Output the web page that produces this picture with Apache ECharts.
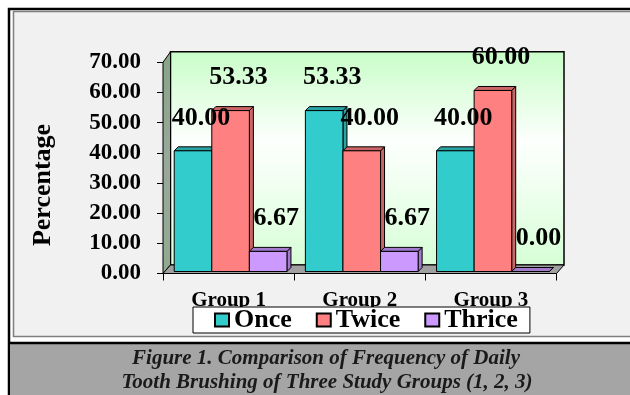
<!DOCTYPE html>
<html>
<head>
<meta charset="utf-8">
<script src="https://cdn.jsdelivr.net/npm/echarts@6/dist/echarts.min.js"></script>
<style>
  html, body { margin: 0; padding: 0; background: #ffffff; }
  #chart { width: 630px; height: 395px; }
</style>
</head>
<body>
<div id="chart"></div>
<script>
// Groups and brushing-frequency percentages
var groups = ['Group 1', 'Group 2', 'Group 3'];
var seriesNames = ['Once', 'Twice', 'Thrice'];
var onceValues = [40.00, 53.33, 40.00];
var twiceValues = [53.33, 40.00, 60.00];
var thriceValues = [6.67, 6.67, 0.00];
var yTicks = { min: 0, max: 70, step: 10 };
var captionLines = [
  'Figure 1. Comparison of Frequency of Daily',
  'Tooth Brushing of Three Study Groups (1, 2, 3)'
];

var SERIF = "'Times New Roman', 'Liberation Serif', serif";
var faceColors = ['#33CCCC', '#FF8080', '#CC99FF'];
var shadeColors = ['#2AA3A3', '#CC6666', '#A37ACC'];
var valueSets = [onceValues, twiceValues, thriceValues];

var BAR_RATIO = 0.2865;   // bar width as a share of one category band
var SHIFT_X = 2, SHIFT_Y = -2; // bars stand slightly inside the floor
var DEPTH = 4;            // 3D cap depth of each bar

function barRenderer(idx) {
  return function (params, api) {
    var cat = api.value(0), v = api.value(1);
    var base = api.coord([cat, 0]);
    var top = api.coord([cat, v]);
    var band = api.size([1, 0])[0];
    var bw = band * BAR_RATIO;
    var x0 = base[0] + SHIFT_X + (idx - 1.5) * bw;
    var x1 = x0 + bw;
    var yb = base[1] + SHIFT_Y;
    var yt = top[1] + SHIFT_Y;
    var d = DEPTH;
    var line = { stroke: '#000', lineWidth: 1 };
    return {
      type: 'group',
      children: [
        { type: 'polygon', shape: { points: [[x1, yt], [x1 + d, yt - d], [x1 + d, yb - d], [x1, yb]] },
          style: Object.assign({ fill: shadeColors[idx] }, line) },
        { type: 'polygon', shape: { points: [[x0, yt], [x0 + d, yt - d], [x1 + d, yt - d], [x1, yt]] },
          style: Object.assign({ fill: shadeColors[idx] }, line) },
        { type: 'rect', shape: { x: x0, y: yt, width: bw, height: yb - yt },
          style: Object.assign({ fill: faceColors[idx] }, line) },
        { type: 'text', x: (x0 + x1) / 2 + 8, y: yt - 33, z2: 100,
          style: { text: v.toFixed(2), fill: '#000', font: 'bold 26px ' + SERIF,
                   align: 'center', verticalAlign: 'middle' } }
      ]
    };
  };
}

// back wall, side wall and floor of the 3D plot box
function wallRenderer(params, api) {
  var cs = params.coordSys;
  var l = cs.x, t = cs.y, r = cs.x + cs.width, b = cs.y + cs.height;
  var dx = 7.5, dyTop = -10.5, dyBot = -8.5;
  return {
    type: 'group',
    children: [
      { type: 'rect', shape: { x: l + dx, y: t + dyTop, width: cs.width, height: (b + dyBot) - (t + dyTop) },
        style: { stroke: '#000', lineWidth: 1.5,
          fill: new echarts.graphic.LinearGradient(0, 0, 0, 1, [
            { offset: 0, color: '#C8FDC8' },
            { offset: 0.42, color: '#FDFFFD' },
            { offset: 0.6, color: '#F2FFF2' },
            { offset: 1, color: '#D6FED6' }
          ]) } },
      { type: 'polygon', shape: { points: [[l, t], [l + dx, t + dyTop], [l + dx, b + dyBot], [l, b]] },
        style: { stroke: '#000', lineWidth: 1,
          fill: new echarts.graphic.LinearGradient(0, 0, 0, 1, [
            { offset: 0, color: '#86A586' },
            { offset: 0.5, color: '#9AA89A' },
            { offset: 1, color: '#8FAA8F' }
          ]) } },
      { type: 'polygon', shape: { points: [[l, b], [l + dx, b + dyBot], [r + dx, b + dyBot], [r, b]] },
        style: { stroke: '#000', lineWidth: 1, fill: '#A0A0A0' } }
    ]
  };
}

var series = [{
  type: 'custom', z: 1, silent: true, clip: false,
  renderItem: wallRenderer, data: [[0, 0]]
}];
valueSets.forEach(function (vals, i) {
  series.push({
    type: 'custom', name: seriesNames[i], z: 2, clip: false,
    itemStyle: { color: faceColors[i] },
    encode: { x: 0, y: 1 },
    renderItem: barRenderer(i),
    data: vals.map(function (v, k) { return [k, v]; })
  });
});

var chart = echarts.init(document.getElementById('chart'), null, { renderer: 'canvas' });
chart.setOption({
  animation: false,
  backgroundColor: 'transparent',
  graphic: [
    { type: 'rect', z: -20, shape: { x: 9, y: 9, width: 700, height: 500 },
      style: { fill: '#ffffff', stroke: '#000', lineWidth: 2.5 } },
    { type: 'rect', z: -19, shape: { x: 13.5, y: 11.5, width: 700, height: 325 },
      style: { fill: '#F1F1F1', stroke: '#7F7F7F', lineWidth: 1.5 } },
    { type: 'rect', z: -19, shape: { x: 10, y: 344, width: 700, height: 60 },
      style: { fill: '#A5A5A5' } },
    { type: 'line', z: -18, shape: { x1: 9, y1: 343, x2: 700, y2: 343 },
      style: { stroke: '#000', lineWidth: 2.5 } },
    { type: 'text', z: 10, x: 43, y: 185, rotation: Math.PI / 2,
      style: { text: 'Percentage', font: 'bold 26px ' + SERIF, fill: '#000',
               align: 'center', verticalAlign: 'middle' } },
    { type: 'text', z: 10, x: 326, y: 359,
      style: { text: captionLines[0], font: 'italic bold 21px ' + SERIF, fill: '#1A1A1A',
               align: 'center', verticalAlign: 'middle' } },
    { type: 'text', z: 10, x: 327, y: 383,
      style: { text: captionLines[1], font: 'italic bold 21px ' + SERIF, fill: '#1A1A1A',
               align: 'center', verticalAlign: 'middle' } }
  ],
  grid: { left: 163, right: 73.5, top: 62.3, bottom: 121.5, containLabel: false },
  xAxis: {
    type: 'category', data: groups,
    axisLine: { show: true, lineStyle: { color: '#000', width: 1 } },
    axisTick: { show: true, length: 7, lineStyle: { color: '#000' } },
    axisLabel: { margin: 17, color: '#000', fontFamily: SERIF, fontWeight: 'bold', fontSize: 21 },
    splitLine: { show: false }
  },
  yAxis: {
    type: 'value', min: yTicks.min, max: yTicks.max, interval: yTicks.step,
    axisLine: { show: true, lineStyle: { color: '#000', width: 1 } },
    axisTick: { show: true, length: 6, lineStyle: { color: '#000' } },
    axisLabel: { margin: 22, color: '#000', fontFamily: SERIF, fontWeight: 'bold', fontSize: 23,
                 formatter: function (v) { return v.toFixed(2); } },
    splitLine: { show: false }
  },
  legend: {
    left: 193, top: 307, orient: 'horizontal',
    backgroundColor: '#ffffff', borderColor: '#000', borderWidth: 1,
    padding: [0, 12, 0, 21], itemGap: 24, itemWidth: 14, itemHeight: 13, icon: 'rect',
    textStyle: { color: '#000', fontFamily: SERIF, fontWeight: 'bold', fontSize: 26, lineHeight: 22 },
    data: seriesNames.map(function (n, i) {
      return { name: n, itemStyle: { color: faceColors[i], borderColor: '#000', borderWidth: 2 } };
    })
  },
  series: series
});
</script>
</body>
</html>
